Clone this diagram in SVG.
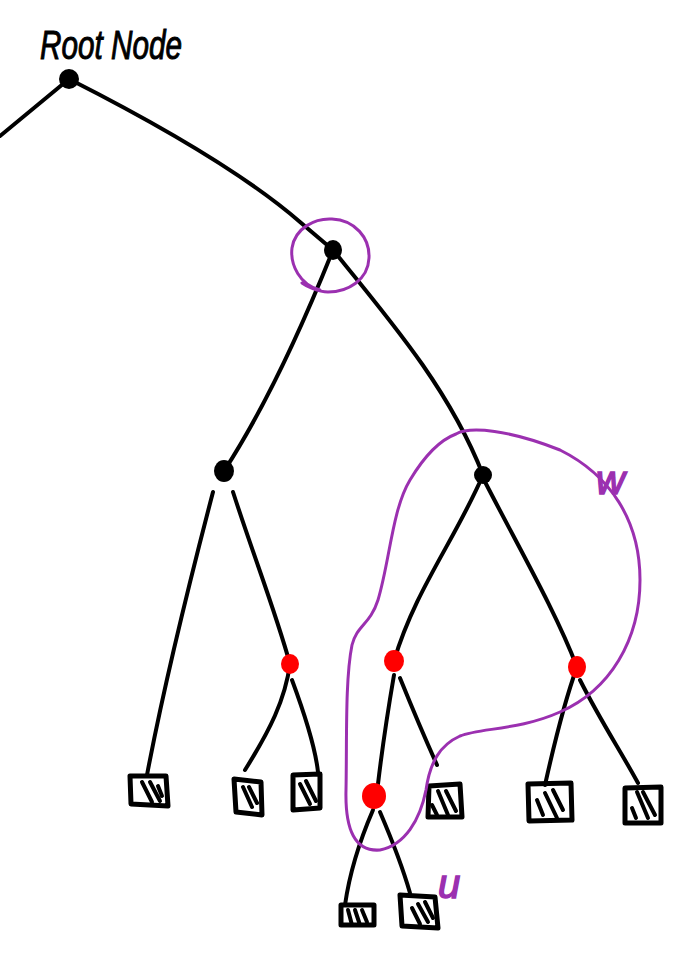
<svg xmlns="http://www.w3.org/2000/svg" width="679" height="960" viewBox="0 0 679 960">
<defs>
<style>
.e{fill:none;stroke:#000;stroke-width:4;stroke-linecap:round;stroke-linejoin:round}
.sq{fill:none;stroke:#000;stroke-width:5;stroke-linecap:round;stroke-linejoin:round}
.h{fill:none;stroke:#000;stroke-width:4;stroke-linecap:round}
.p{fill:none;stroke:#9b30b0;stroke-width:3;stroke-linecap:round;stroke-linejoin:round}
.blk{fill:#000}
.red{fill:#f00}
.lbl{font-family:"Liberation Sans",sans-serif;font-style:italic;font-size:40px;fill:#000;stroke:#000;stroke-width:1}
.pl{font-family:"Liberation Sans",sans-serif;font-style:italic;font-size:40px;fill:#9b30b0;stroke:#9b30b0;stroke-width:1.5}
</style>
</defs>
<rect width="679" height="960" fill="#fff"/>
<g id="connectors">
<path class="e" d="M69,79 L0,136"/>
<path class="e" d="M69,79 C150,120 240,170 300,222 L333,250"/>
<path class="e" d="M333,250 C305,320 270,400 224,471"/>
<path class="e" d="M333,250 C390,320 450,390 483,475"/>
<path class="e" d="M213,492 C190,580 165,680 147,775"/>
<path class="e" d="M233,492 C255,560 275,610 290,664"/>
<path class="e" d="M290,664 C285,700 270,730 245,770"/>
<path class="e" d="M292,680 C305,715 315,745 318,772"/>
<path class="e" d="M483,475 C455,540 415,590 394,661"/>
<path class="e" d="M483,478 C520,550 555,610 577,667"/>
<path class="e" d="M394,675 C388,710 382,750 378,784"/>
<path class="e" d="M400,678 C415,715 428,745 437,765"/>
<path class="e" d="M373,810 C360,840 350,870 345,905"/>
<path class="e" d="M380,812 C392,840 402,865 410,893"/>
<path class="e" d="M577,667 C565,700 555,740 545,785"/>
<path class="e" d="M580,680 C600,720 620,750 638,783"/>
</g>
<g id="root"><text class="lbl" x="40" y="59" textLength="142" lengthAdjust="spacingAndGlyphs">Root Node</text><circle class="blk" cx="69" cy="79" r="10"/></g>
<g id="nodeA"><ellipse class="blk" cx="333" cy="250" rx="9" ry="10"/><path class="p" d="M320,290 C300,285 290,265 292,248 C295,228 315,218 332,219 C355,220 370,238 369,258 C368,280 348,292 328,292 C318,292 306,286 302,283"/></g>
<g id="nodeB"><ellipse class="blk" cx="224" cy="471" rx="10" ry="11"/></g>
<g id="nodeD"><circle class="blk" cx="483" cy="475" r="9"/></g>
<g id="nodeC"><ellipse class="red" cx="290" cy="664" rx="9" ry="10"/></g>
<g id="nodeE"><ellipse class="red" cx="394" cy="661" rx="10" ry="11"/></g>
<g id="nodeF"><ellipse class="red" cx="374" cy="796" rx="12" ry="13"/></g>
<g id="nodeG"><ellipse class="red" cx="577" cy="667" rx="9" ry="11"/></g>
<g id="leaf1"><path class="sq" d="M130,776 L166,776 L168,806 L131,804 Z"/><path class="h" d="M142,782 L152,802 M150,782 L160,801 M158,786 L162,796"/></g>
<g id="leaf2"><path class="sq" d="M234,779 L261,782 L262,815 L236,812 Z"/><path class="h" d="M243,787 L252,807 M249,787 L257,803"/></g>
<g id="leaf3"><path class="sq" d="M293,775 L320,774 L320,808 L293,810 Z"/><path class="h" d="M300,784 L310,804 M306,781 L316,801"/></g>
<g id="leaf4"><path class="sq" d="M429,786 L460,784 L462,817 L428,817 Z"/><path class="h" d="M432,805 L437,815 M438,791 L448,815 M446,791 L456,811"/></g>
<g id="leaf5"><path class="sq" d="M528,784 L571,783 L572,820 L529,821 Z"/><path class="h" d="M537,800 L543,815 M545,793 L557,818 M553,790 L563,810"/></g>
<g id="leaf6"><path class="sq" d="M625,788 L661,787 L661,823 L625,823 Z"/><path class="h" d="M632,808 L636,818 M637,792 L648,818 M643,792 L655,815"/></g>
<g id="leaf7"><path class="sq" d="M341,905 L374,905 L374,925 L341,925 Z"/><path class="h" d="M348,910 L352,925 M355,910 L360,925 M362,910 L367,922"/></g>
<g id="leaf8"><path class="sq" d="M400,895 L435,897 L438,928 L402,926 Z"/><path class="h" d="M412,908 L420,924 M418,904 L428,922 M425,902 L433,918"/></g>
<g id="groupW"><path class="p" d="M456,434 C470,426 510,430 560,450 C610,475 640,520 640,580 C640,640 610,690 560,712 C520,730 480,728 460,736 C440,745 430,762 426,790 C420,820 405,845 380,850 C355,852 345,830 346,790 C347,740 345,680 352,645 C357,625 370,625 378,600 C390,560 392,510 410,480 C425,455 440,440 456,434"/>
<text class="pl" x="596" y="494">w</text></g>
<g id="labelU"><text class="pl" x="438" y="898">u</text></g>
</svg>
